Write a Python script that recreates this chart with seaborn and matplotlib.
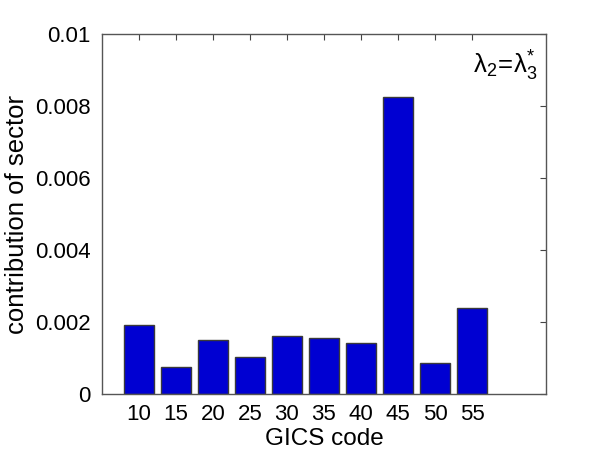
import matplotlib
matplotlib.use("Agg")
import matplotlib.pyplot as plt
import seaborn as sns
import pandas as pd

codes = ["10", "15", "20", "25", "30", "35", "40", "45", "50", "55"]
contrib = [0.00192, 0.00074, 0.00150, 0.00103, 0.00160, 0.00157, 0.00143, 0.00825, 0.00085, 0.00240]
ytick_vals = [0, 0.002, 0.004, 0.006, 0.008, 0.01]
ytick_labels = ["0", "0.002", "0.004", "0.006", "0.008", "0.01"]

sns.set_style("white")
plt.rcParams["font.family"] = ["Liberation Sans", "DejaVu Sans"]
plt.rcParams["mathtext.fontset"] = "custom"
plt.rcParams["mathtext.rm"] = "Liberation Sans"
plt.rcParams["mathtext.it"] = "Liberation Sans:italic"
plt.rcParams["text.color"] = "black"
plt.rcParams["axes.labelcolor"] = "black"
plt.rcParams["xtick.labelcolor"] = "black"
plt.rcParams["ytick.labelcolor"] = "black"

df = pd.DataFrame({"code": codes, "value": contrib})

fig = plt.figure(figsize=(6.02, 4.53), dpi=100)
ax = fig.add_axes([0.169, 0.130, 0.738, 0.795])
sns.barplot(data=df, x="code", y="value", order=codes, color="#0000d2",
            saturation=1, width=0.8, edgecolor="#3a3a3a", linewidth=1.0, ax=ax)

ax.set_xlim(-1, 11)
ax.set_ylim(0, 0.01)
ax.set_yticks(ytick_vals)
ax.set_yticklabels(ytick_labels)
ax.set_xlabel("GICS code", fontsize=17.5, labelpad=2, color="black")
ax.set_ylabel("contribution of sector", fontsize=18.5, labelpad=4, color="black")
ax.tick_params(axis="both", direction="in", length=4, width=0.8, color="#444444",
               top=True, right=True, labelsize=16, labelcolor="black")
ax.tick_params(axis="y", pad=8)
ax.tick_params(axis="x", pad=7)
for s in ax.spines.values():
    s.set_visible(True)
    s.set_color("#555555")
    s.set_linewidth(1.0)

ax.text(10.78, 0.0091, r"$\mathregular{\lambda_2\!=\!\lambda_3^{*}}$", fontsize=18.5,
        ha="right", va="center", color="black")

fig.savefig("out.png", dpi=100)
